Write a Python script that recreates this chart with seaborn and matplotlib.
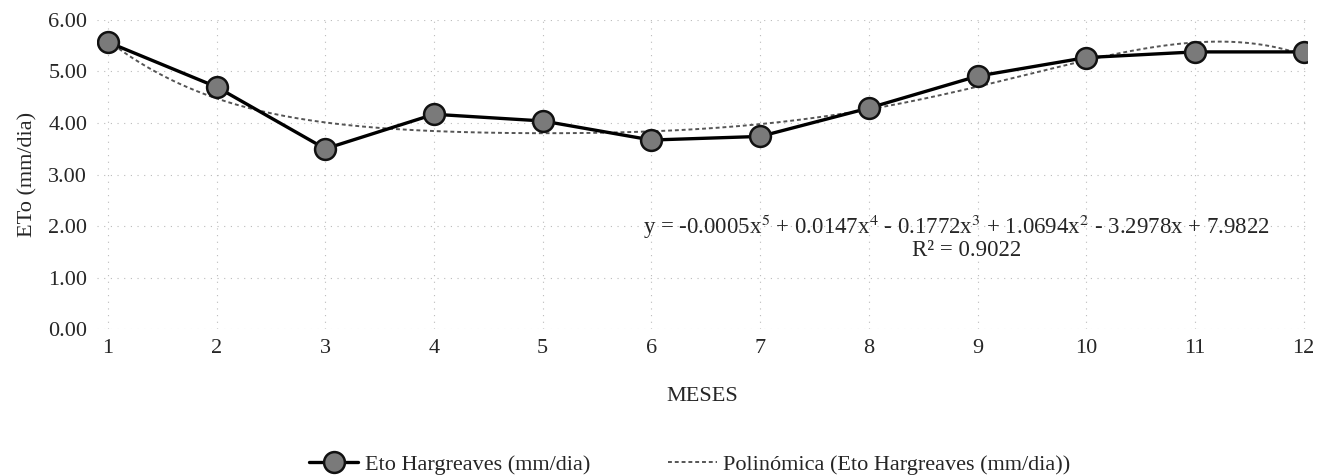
import numpy as np
import pandas as pd
import matplotlib
matplotlib.use("Agg")
import matplotlib.pyplot as plt
import seaborn as sns

meses = [1, 2, 3, 4, 5, 6, 7, 8, 9, 10, 11, 12]
eto = [5.57, 4.70, 3.50, 4.17, 4.04, 3.67, 3.74, 4.29, 4.91, 5.27, 5.38, 5.38]
serie_label = "Eto Hargreaves (mm/dia)"
trend_label = "Polinómica (Eto Hargreaves (mm/dia))"
eq_text = "y = -0.0005x$^5$ + 0.0147x$^4$ - 0.1772x$^3$ + 1.0694x$^2$ - 3.2978x + 7.9822"
r2_text = "R² = 0.9022"
yticks = [0, 1, 2, 3, 4, 5, 6]

sns.set_theme(style="white")
plt.rcParams['font.family'] = ['Liberation Serif', 'DejaVu Serif']
plt.rcParams['mathtext.fontset'] = 'stix'

df = pd.DataFrame({"mes": meses, "eto": eto})
coef = np.polyfit(df["mes"], df["eto"], 5)
xf = np.linspace(1, 12, 300)
trend = pd.DataFrame({"mes": xf, "eto": np.polyval(coef, xf)})

fig = plt.figure(figsize=(13.18, 4.75), dpi=100)
ax = fig.add_axes([0.0736, 0.307, 0.918, 0.651])

sns.lineplot(data=trend, x="mes", y="eto", ax=ax, color="#555555", lw=1.4,
             linestyle=(0, (2, 1.5)), label=trend_label, zorder=2)
sns.lineplot(data=df, x="mes", y="eto", ax=ax, color="black", lw=2.4,
             marker="o", markersize=15, markerfacecolor="#7a7a7a",
             markeredgecolor="#111111", markeredgewidth=1.8,
             label=serie_label, zorder=3)

ax.set_xlim(0.9, 12.03)
ax.set_ylim(0, 6)
ax.set_xticks(meses)
ax.set_yticks(yticks)
ax.set_yticklabels([f"{v:.2f}" for v in yticks])
ax.tick_params(axis="both", labelsize=16, length=0, pad=7)
ax.grid(True, color="#bbbbbb", linestyle=(0, (1, 5)), lw=0.8)
for s in ax.spines.values():
    s.set_visible(False)
ax.set_xlabel("MESES", fontsize=16, labelpad=21)
ax.set_ylabel("ETo (mm/dia)", fontsize=16, labelpad=8)

ax.text(5.92, 1.99, eq_text, fontsize=16.5, ha="left", va="center")
ax.text(8.9, 1.52, r2_text, fontsize=16.5, ha="center", va="center")

h, l = ax.get_legend_handles_labels()
leg = ax.legend([h[1], h[0]], [l[1], l[0]], loc="upper center",
                bbox_to_anchor=(0.49, -0.34), ncol=2, frameon=False,
                fontsize=16, columnspacing=3.5, handlelength=2.2,
                handletextpad=0.3)

fig.savefig("out.png", dpi=100)
